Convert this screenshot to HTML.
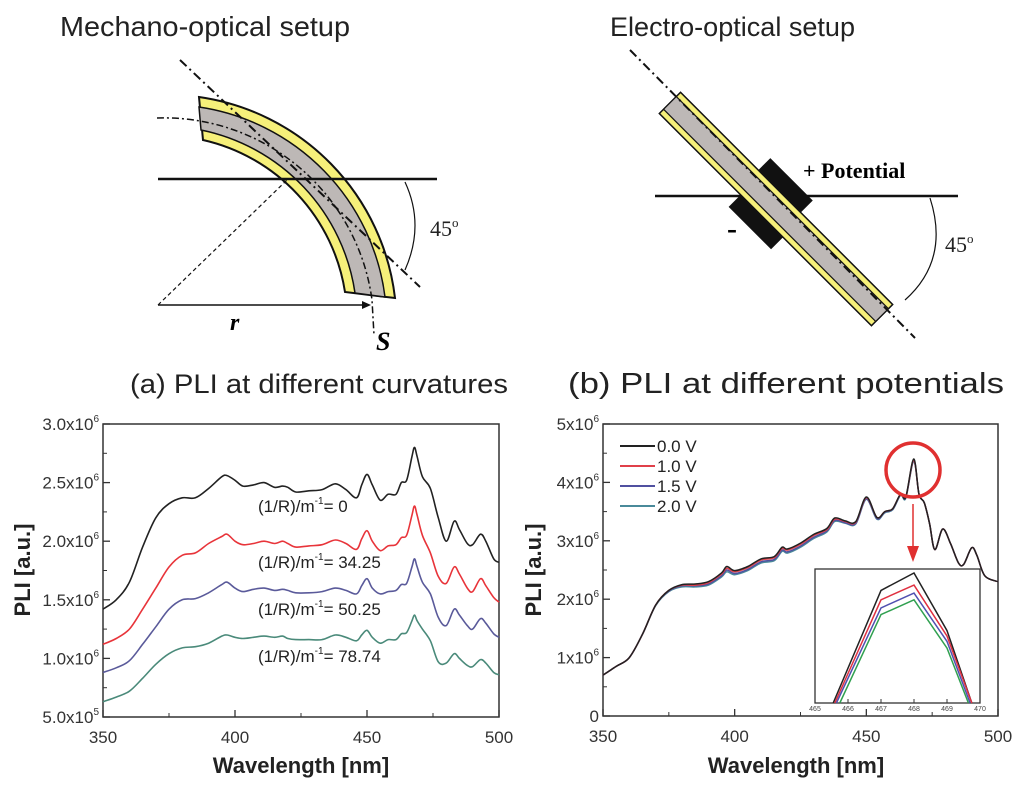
<!DOCTYPE html>
<html><head><meta charset="utf-8"><style>
body{margin:0;background:#fff}
svg{display:block;font-family:"Liberation Sans",sans-serif}
</style></head><body>
<svg id="fig" width="1024" height="785" viewBox="0 0 1024 785" xmlns="http://www.w3.org/2000/svg">
<rect width="1024" height="785" fill="#fff"/>
<text x="60" y="36" font-size="28" textLength="290" lengthAdjust="spacingAndGlyphs" fill="#222">Mechano-optical setup</text>
<text x="610" y="36" font-size="27" textLength="245" lengthAdjust="spacingAndGlyphs" fill="#222">Electro-optical setup</text>

<g>
 <path d="M199,97 A230,230 0 0 1 395,298 L345,292 A185,185 0 0 0 203,140 Z" fill="#f6f07a" stroke="#111" stroke-width="2"/>
 <path d="M199,107 A220,220 0 0 1 385,297 L355,293 A195,195 0 0 0 201,130 Z" fill="#bdb8b6" stroke="#111" stroke-width="1.5"/>
 <path d="M157,118 A210,210 0 0 1 372,300 L374,335" fill="none" stroke="#111" stroke-width="1.5" stroke-dasharray="7,3,2,3"/>
 <line x1="158" y1="179" x2="437" y2="179" stroke="#111" stroke-width="2.5"/>
 <line x1="180" y1="60" x2="420" y2="287" stroke="#111" stroke-width="2" stroke-dasharray="9,4,2,4"/>
 <line x1="158" y1="305" x2="287" y2="180" stroke="#111" stroke-width="1.2" stroke-dasharray="4,3"/>
 <line x1="158" y1="305" x2="368" y2="305" stroke="#111" stroke-width="1.5"/>
 <path d="M371,305 l-9,-4 v8z" fill="#111"/>
 <path d="M405,182 Q425,225 405,270" fill="none" stroke="#111" stroke-width="1.2"/>
 <text x="430" y="236" font-size="22" font-family="Liberation Serif,serif" fill="#222">45<tspan font-size="13" dy="-9">o</tspan></text>
 <text x="230" y="330" font-size="24" font-style="italic" font-weight="bold" font-family="Liberation Serif,serif">r</text>
 <text x="376" y="350" font-size="26" font-style="italic" font-weight="bold" font-family="Liberation Serif,serif">S</text>
</g>

<g>
 <line x1="655" y1="196" x2="958" y2="196" stroke="#111" stroke-width="2.5"/>
 <g transform="translate(776,209) rotate(45)">
  <rect x="-150" y="-15" width="300" height="30" fill="#f6f07a" stroke="#111" stroke-width="1.5"/>
  <rect x="-150" y="-9" width="300" height="18" fill="#bdb8b6" stroke="#111" stroke-width="1.2"/>
  <rect x="-40" y="-32" width="60" height="17" fill="#111"/>
  <rect x="-35" y="15" width="60" height="17" fill="#111"/>
 </g>
 <line x1="630" y1="50" x2="915" y2="338" stroke="#111" stroke-width="2" stroke-dasharray="9,4,2,4"/>
 <path d="M930,198 Q950,260 905,300" fill="none" stroke="#111" stroke-width="1.2"/>
 <text x="945" y="252" font-size="22" font-family="Liberation Serif,serif" fill="#222">45<tspan font-size="13" dy="-9">o</tspan></text>
 <text x="803" y="178" font-size="22" font-weight="bold" font-family="Liberation Serif,serif">+ Potential</text>
 <text x="727" y="238" font-size="30" font-weight="bold" font-family="Liberation Serif,serif">-</text>
</g>

<text x="130" y="393" font-size="27" textLength="378" lengthAdjust="spacingAndGlyphs" fill="#222">(a) PLI at different curvatures</text>
<text x="568" y="393" font-size="29" textLength="436" lengthAdjust="spacingAndGlyphs" fill="#222">(b) PLI at different potentials</text>
<g id="ca"></g>
<g id="cb"></g>
</svg>
<script>
// ---- Chart A data (values in 1e6) ----
const aWl=[350,355,360,365,370,375,380,385,390,395,397,400,403,407,411,415,418,420,423,428,433,438,442,446,448,450,452,455,458,461,463,465,467,468,469,471,474,477,480,483,485,488,490,493,495,498,500];
const aBlack=[1.42,1.5,1.65,1.95,2.2,2.32,2.37,2.37,2.45,2.55,2.56,2.52,2.47,2.48,2.5,2.46,2.47,2.46,2.42,2.43,2.44,2.49,2.44,2.37,2.48,2.57,2.48,2.35,2.4,2.4,2.5,2.52,2.72,2.8,2.72,2.55,2.45,2.2,2.0,2.17,2.1,1.98,1.97,2.06,2.0,1.85,1.82];
const aRed=[1.12,1.17,1.25,1.42,1.6,1.78,1.88,1.9,1.98,2.04,2.06,2.0,1.97,1.98,2.0,1.98,2.0,1.98,1.95,1.96,1.97,2.01,1.98,1.93,2.02,2.09,2.0,1.92,1.96,1.97,2.03,2.05,2.22,2.3,2.22,2.05,1.9,1.7,1.64,1.78,1.72,1.6,1.57,1.68,1.62,1.52,1.48];
const aBlue=[0.88,0.92,0.98,1.12,1.27,1.42,1.5,1.51,1.56,1.63,1.65,1.6,1.57,1.59,1.6,1.58,1.59,1.58,1.56,1.56,1.57,1.6,1.58,1.55,1.62,1.68,1.6,1.55,1.57,1.58,1.63,1.64,1.78,1.85,1.78,1.65,1.55,1.35,1.28,1.42,1.37,1.28,1.25,1.34,1.3,1.21,1.18];
const aGreen=[0.63,0.67,0.72,0.83,0.95,1.04,1.09,1.1,1.13,1.19,1.2,1.18,1.17,1.18,1.19,1.18,1.19,1.17,1.16,1.16,1.16,1.2,1.18,1.15,1.2,1.24,1.18,1.13,1.16,1.16,1.21,1.22,1.32,1.37,1.32,1.25,1.15,0.97,0.96,1.04,1.0,0.94,0.93,0.99,0.96,0.88,0.86];
const aLabels=["(1/R)/m","(1/R)/m","(1/R)/m","(1/R)/m"];
const aLabelVals=["= 0","= 34.25","= 50.25","= 78.74"];
const aYTicks=[0.5,1.0,1.5,2.0,2.5,3.0];
const aYTickText=["5.0x10","1.0x10","1.5x10","2.0x10","2.5x10","3.0x10"];
const aYTickExp=["5","6","6","6","6","6"];
const xTicks=[350,400,450,500];
// ---- Chart B data (values in 1e6) ----
const bWl=[350,355,360,365,370,375,380,385,390,395,397,400,405,410,415,418,420,425,430,435,438,442,446,450,454,457,460,463,465,468,470,472,474,476,479,482,485,487,490,492,495,500];
const b0=[0.7,0.85,1.0,1.4,1.9,2.15,2.25,2.26,2.3,2.45,2.56,2.49,2.56,2.69,2.73,2.89,2.86,2.96,3.11,3.21,3.39,3.34,3.33,3.75,3.4,3.5,3.55,3.8,3.75,4.4,3.8,3.65,3.3,2.85,3.2,2.95,2.62,2.6,2.88,2.75,2.4,2.3];
const b1=[0.7,0.85,1.0,1.4,1.9,2.15,2.24,2.24,2.28,2.43,2.53,2.47,2.54,2.67,2.71,2.87,2.84,2.94,3.09,3.19,3.37,3.33,3.32,3.74,3.4,3.5,3.55,3.8,3.75,4.38,3.8,3.65,3.3,2.85,3.2,2.95,2.62,2.6,2.88,2.75,2.4,2.3];
const b15=[0.7,0.85,1.0,1.4,1.9,2.14,2.23,2.23,2.26,2.4,2.5,2.44,2.51,2.64,2.68,2.84,2.81,2.91,3.06,3.17,3.35,3.31,3.3,3.72,3.38,3.49,3.54,3.79,3.74,4.37,3.8,3.65,3.3,2.85,3.2,2.95,2.62,2.6,2.88,2.75,2.4,2.3];
const b2=[0.7,0.85,1.0,1.4,1.89,2.13,2.21,2.21,2.24,2.38,2.47,2.42,2.49,2.62,2.66,2.82,2.79,2.89,3.04,3.15,3.33,3.3,3.29,3.71,3.37,3.48,3.53,3.78,3.73,4.36,3.8,3.65,3.3,2.85,3.2,2.95,2.62,2.6,2.88,2.75,2.4,2.3];
const bLegend=["0.0 V","1.0 V","1.5 V","2.0 V"];
const bYTicks=[0,1,2,3,4,5];
const bYTickText=["0","1x10","2x10","3x10","4x10","5x10"];
// inset data (relative height in inset frame 0..1)
const inX0=[465.55,467,468,469,469.75];
const inBlack=[0,0.84,0.97,0.54,0];
const inX1=[465.6,467,468,469,469.75];
const inRed=[0,0.77,0.88,0.5,0];
const inX2=[465.65,467,468,469,469.7];
const inBlue=[0,0.71,0.82,0.46,0];
const inX3=[465.75,467,468,469,469.65];
const inGreen=[0,0.66,0.77,0.41,0];
const inTicks=[465,466,467,468,469,470];

const NS="http://www.w3.org/2000/svg";
function mk(parent,tag,attrs,txt){const e=document.createElementNS(NS,tag);for(const k in attrs)e.setAttribute(k,attrs[k]);if(txt!=null)e.textContent=txt;parent.appendChild(e);return e;}
function linePath(xs,ys,sx,sy){return xs.map((x,i)=>(i?'L':'M')+sx(x).toFixed(1)+','+sy(ys[i]).toFixed(1)).join('');}
function smoothPath(xs,ys,sx,sy){
 const P=xs.map((x,i)=>[sx(x),sy(ys[i])]);
 let d='M'+P[0][0].toFixed(1)+','+P[0][1].toFixed(1);
 for(let i=0;i<P.length-1;i++){
  const p0=P[Math.max(0,i-1)],p1=P[i],p2=P[i+1],p3=P[Math.min(P.length-1,i+2)];
  const c1=[p1[0]+(p2[0]-p0[0])/6,p1[1]+(p2[1]-p0[1])/6];
  const c2=[p2[0]-(p3[0]-p1[0])/6,p2[1]-(p3[1]-p1[1])/6];
  d+='C'+c1.map(v=>v.toFixed(1)).join(',')+' '+c2.map(v=>v.toFixed(1)).join(',')+' '+p2.map(v=>v.toFixed(1)).join(',');
 }
 return d;
}

// ---------- Chart A ----------
(function(){
 const g=document.getElementById('ca');
 const L=103,R=499,T=424,B=717;
 const sx=v=>L+(v-350)/150*(R-L), sy=v=>B-(v-0.5)/2.5*(B-T);
 const fr=mk(g,'rect',{x:L,y:T,width:R-L,height:B-T,fill:'none',stroke:'#333','stroke-width':1.5});
 
 
 xTicks.forEach(v=>{
  mk(g,'line',{x1:sx(v),y1:B,x2:sx(v),y2:B-7,stroke:'#333','stroke-width':1.3});
  const t=mk(g,'text',{x:sx(v),y:B+26,'font-size':17,'text-anchor':'middle',fill:'#333'},v);
  
  
 });
 [375,425,475].forEach(v=>mk(g,'line',{x1:sx(v),y1:B,x2:sx(v),y2:B-4,stroke:'#333'}));
 aYTicks.forEach((v,i)=>{
  mk(g,'line',{x1:L,y1:sy(v),x2:L+7,y2:sy(v),stroke:'#333','stroke-width':1.3});
  if(i<aYTicks.length-1)mk(g,'line',{x1:L,y1:sy(v+0.25),x2:L+4,y2:sy(v+0.25),stroke:'#333'});
  const t=mk(g,'text',{x:L-4,y:sy(v)+6,'font-size':17,'text-anchor':'end',fill:'#333'});
  
  
  t.innerHTML=aYTickText[i]+'<tspan font-size="10" dy="-8">'+aYTickExp[i]+'</tspan>';
 });
 const cols=['#222','#e8343a','#5a5a9a','#4a8a7a'];
 [aBlack,aRed,aBlue,aGreen].forEach((s,i)=>{
  const p=mk(g,'path',{d:smoothPath(aWl,s,sx,sy),fill:'none',stroke:cols[i],'stroke-width':1.6,'stroke-linejoin':'round'});
  
  
 });
 const ly=[512,568,615,662];
 aLabels.forEach((l,i)=>{
  const t=mk(g,'text',{x:258,y:ly[i],'font-size':17,fill:'#222'});
  
  
  t.innerHTML=l+'<tspan font-size="10" dy="-8">-1</tspan><tspan dy="8">'+aLabelVals[i]+'</tspan>';
 });
 const xt=mk(g,'text',{x:301,y:773,'font-size':22,'font-weight':'bold','text-anchor':'middle',fill:'#222'},'Wavelength [nm]');
 
 
 const yt=mk(g,'text',{x:0,y:0,'font-size':22,'font-weight':'bold','text-anchor':'middle',fill:'#222',transform:'translate(30,570) rotate(-90)'},'PLI [a.u.]');
 
 
})();

// ---------- Chart B ----------
(function(){
 const g=document.getElementById('cb');
 const L=603,R=998,T=424,B=716;
 const sx=v=>L+(v-350)/150*(R-L), sy=v=>B-v/5*(B-T);
 const fr=mk(g,'rect',{x:L,y:T,width:R-L,height:B-T,fill:'none',stroke:'#333','stroke-width':1.5});
 
 
 xTicks.forEach(v=>{
  mk(g,'line',{x1:sx(v),y1:B,x2:sx(v),y2:B-7,stroke:'#333','stroke-width':1.3});
  const t=mk(g,'text',{x:sx(v),y:B+26,'font-size':17,'text-anchor':'middle',fill:'#333'},v);
  
  
 });
 [375,425,475].forEach(v=>mk(g,'line',{x1:sx(v),y1:B,x2:sx(v),y2:B-4,stroke:'#333'}));
 bYTicks.forEach((v,i)=>{
  mk(g,'line',{x1:L,y1:sy(v),x2:L+7,y2:sy(v),stroke:'#333','stroke-width':1.3});
  if(i<bYTicks.length-1)mk(g,'line',{x1:L,y1:sy(v+0.5),x2:L+4,y2:sy(v+0.5),stroke:'#333'});
  const t=mk(g,'text',{x:L-4,y:sy(v)+6,'font-size':17,'text-anchor':'end',fill:'#333'});
  
  
  t.innerHTML=bYTickText[i]+(v>0?'<tspan font-size="10" dy="-8">6</tspan>':'');
 });
 const cols=['#222','#e0404a','#5050a0','#4a8a9a'];
 [b2,b15,b1,b0].forEach((s,j)=>{
  const i=3-j;
  const p=mk(g,'path',{d:smoothPath(bWl,s,sx,sy),fill:'none',stroke:cols[i],'stroke-width':1.5,'stroke-linejoin':'round'});
  
  
 });
 bLegend.forEach((l,i)=>{
  const y=446+i*20;
  const ln=mk(g,'line',{x1:620,y1:y,x2:655,y2:y,stroke:cols[i],'stroke-width':2});
  
  
  const t=mk(g,'text',{x:657,y:y+6,'font-size':17,fill:'#222'},l);
  
  
 });
 const c=mk(g,'circle',{cx:913,cy:470,r:27,fill:'none',stroke:'#e03030','stroke-width':3.5});
 
 
 const ar=mk(g,'line',{x1:913,y1:504,x2:913,y2:548,stroke:'#e03030','stroke-width':1.5});
 
 
 mk(g,'path',{d:'M907,546 L919,546 L913,562 Z',fill:'#e03030'});
 const iL=815,iR=980,iT=569,iB=703;
 const ix=v=>iL+(v-465)/5*(iR-iL), iy=v=>iB-v*(iB-iT);
 const ir=mk(g,'rect',{x:iL,y:iT,width:iR-iL,height:iB-iT,fill:'#fff',stroke:'#333','stroke-width':1.3});
 
 
 inTicks.forEach(v=>{
  mk(g,'line',{x1:ix(v),y1:iB,x2:ix(v),y2:iB-4,stroke:'#333'});
  const t=mk(g,'text',{x:ix(v),y:iB+8,'font-size':7,'text-anchor':'middle',fill:'#444'},v);
  
  
 });
 const icol=['#222','#e03040','#5050b0','#30a050'];
 [[inX0,inBlack],[inX1,inRed],[inX2,inBlue],[inX3,inGreen]].forEach((s,i)=>{
  const p=mk(g,'path',{d:linePath(s[0],s[1],ix,iy),fill:'none',stroke:icol[i],'stroke-width':1.5});
  
  
 });
 const xt=mk(g,'text',{x:796,y:773,'font-size':22,'font-weight':'bold','text-anchor':'middle',fill:'#222'},'Wavelength [nm]');
 
 
 const yt=mk(g,'text',{x:0,y:0,'font-size':22,'font-weight':'bold','text-anchor':'middle',fill:'#222',transform:'translate(541,570) rotate(-90)'},'PLI [a.u.]');
 
 
})();
</script>
</body></html>
